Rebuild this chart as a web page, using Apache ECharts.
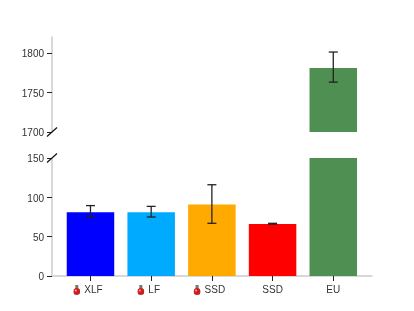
<!DOCTYPE html>
<html><head><meta charset="utf-8">
<style>html,body{margin:0;padding:0;background:#fff}#c{width:414px;height:311px}</style>
<script src="https://cdn.jsdelivr.net/npm/echarts@6/dist/echarts.min.js"></script>
</head><body><div id="c"></div>
<script>
const categories = ['XLF', 'LF', 'SSD', 'SSD', 'EU'];
const hasFlask = [true, true, true, false, false];
const means = [81, 81, 91, 66, 1781];
const errLow = [75, 75, 67, 66, 1763];
const errHigh = [89.5, 88.5, 116, 67, 1801];
const colors = ['#0000ff', '#00aaff', '#ffaa00', '#ff0000', '#4f8f51'];
const lowerTicks = [0, 50, 100, 150];
const upperTicks = [1700, 1750, 1800];
const upperMax = 1820;
const xRange = [-0.634, 4.638];

const flaskSvg = 'data:image/svg+xml;utf8,' + encodeURIComponent(
 '<svg xmlns="http://www.w3.org/2000/svg" width="14" height="20" viewBox="0 0 14 20">' +
 '<rect x="4" y="0" width="6" height="8" fill="#7d6f6f"/>' +
 '<circle cx="7" cy="13" r="7" fill="#c9201f"/>' +
 '<ellipse cx="5" cy="11" rx="2.2" ry="1.8" fill="#ee9c9c"/></svg>');

const indices = categories.map((_, i) => i);
const chart = echarts.init(document.getElementById('c'), null, {renderer: 'canvas'});

function errorItem(params, api) {
  const x = api.value(0);
  const low = api.coord([x, api.value(1)]);
  const high = api.coord([x, api.value(2)]);
  const cap = 4.5;
  const style = {stroke: '#222', lineWidth: 1.3, fill: null};
  return {type: 'group', children: [
    {type: 'line', shape: {x1: low[0], y1: low[1], x2: high[0], y2: high[1]}, style},
    {type: 'line', shape: {x1: low[0] - cap, y1: low[1], x2: low[0] + cap, y2: low[1]}, style},
    {type: 'line', shape: {x1: high[0] - cap, y1: high[1], x2: high[0] + cap, y2: high[1]}, style}
  ]};
}
function slashItem(params, api) {
  const p = api.coord([api.value(0), api.value(1)]);
  return {type: 'line', shape: {x1: p[0] - 5, y1: p[1] + 4.5, x2: p[0] + 5, y2: p[1] - 4.5},
    style: {stroke: '#111', lineWidth: 1.2}};
}
const barData = indices.map(i => ({value: [i, means[i]], itemStyle: {color: colors[i]}}));
const errData = indices.map(i => [i, errLow[i], errHigh[i]]);

const yAxisCommon = {
  type: 'value', splitLine: {show: false},
  axisLine: {show: true, onZero: false, lineStyle: {color: '#cccccc', width: 1.5}},
  axisTick: {show: true, length: 5, lineStyle: {color: '#222'}}
};
const yLabel = values => ({customValues: values, formatter: v => '{n|' + v + '}',
  margin: 8, rich: {n: {color: '#333', fontSize: 10, fontFamily: 'Liberation Sans', lineHeight: 14, padding: [3, 0, 0, 0]}}});
chart.setOption({
  animation: false,
  grid: [
    {left: 52, width: 320, top: 37, height: 95},
    {left: 52, width: 320, top: 158, height: 118}
  ],
  xAxis: [
    {gridIndex: 0, type: 'value', min: xRange[0], max: xRange[1], show: false},
    {gridIndex: 1, type: 'value', min: xRange[0], max: xRange[1], splitLine: {show: false},
     axisLine: {show: true, onZero: false, lineStyle: {color: '#cccccc', width: 1.5}},
     axisTick: {show: true, length: 5, customValues: indices, lineStyle: {color: '#222'}},
     axisLabel: {
       customValues: indices, margin: 9, color: '#333', fontSize: 10, fontFamily: 'Liberation Sans',
       formatter: v => hasFlask[v] ? '{f|}{g|}{t|' + categories[v] + '}{g2|}' : categories[v],
       rich: {
         f: {width: 7, height: 10, backgroundColor: {image: flaskSvg}},
         g: {width: 4},
         g2: {width: 5},
         t: {color: '#333', fontSize: 10, fontFamily: 'Liberation Sans'}
       }
     }}
  ],
  yAxis: [
    Object.assign({gridIndex: 0, min: upperTicks[0], max: upperMax}, yAxisCommon,
      {axisTick: Object.assign({customValues: upperTicks}, yAxisCommon.axisTick), axisLabel: yLabel(upperTicks)}),
    Object.assign({gridIndex: 1, min: lowerTicks[0], max: lowerTicks[3]}, yAxisCommon,
      {axisTick: Object.assign({customValues: lowerTicks}, yAxisCommon.axisTick), axisLabel: yLabel(lowerTicks)})
  ],
  series: [
    {type: 'bar', xAxisIndex: 0, yAxisIndex: 0, barWidth: 47.5, data: barData, clip: true},
    {type: 'bar', xAxisIndex: 1, yAxisIndex: 1, barWidth: 47.5, data: barData, clip: true},
    {type: 'custom', xAxisIndex: 0, yAxisIndex: 0, data: errData.filter(d => d[1] >= upperTicks[0]), renderItem: errorItem, z: 5},
    {type: 'custom', xAxisIndex: 1, yAxisIndex: 1, data: errData.filter(d => d[2] <= lowerTicks[3]), renderItem: errorItem, z: 5},
    {type: 'custom', xAxisIndex: 0, yAxisIndex: 0, data: [[xRange[0], upperTicks[0]]], renderItem: slashItem, clip: false, z: 6},
    {type: 'custom', xAxisIndex: 1, yAxisIndex: 1, data: [[xRange[0], lowerTicks[3]]], renderItem: slashItem, clip: false, z: 6}
  ]
});
</script></body></html>
